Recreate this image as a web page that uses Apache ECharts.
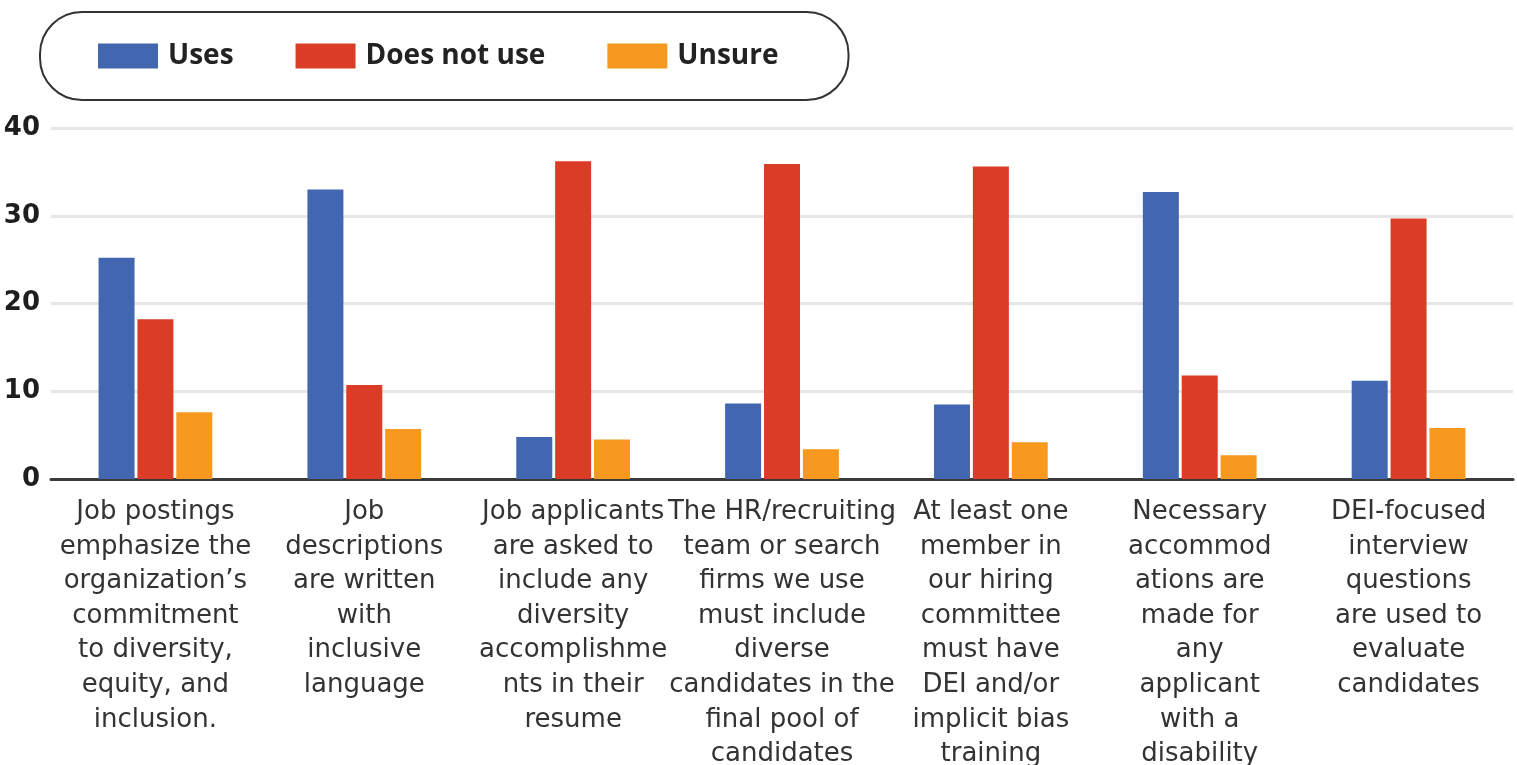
<!DOCTYPE html>
<html>
<head>
<meta charset="utf-8">
<script src="https://cdn.jsdelivr.net/npm/echarts@6/dist/echarts.min.js"></script>
<style>
  html, body { margin: 0; padding: 0; background: #ffffff; }
  #chart { width: 1517px; height: 765px; }
</style>
</head>
<body>
<div id="chart"></div>
<script>
const categories = [
  "Job postings\nemphasize the\norganization’s\ncommitment\nto diversity,\nequity, and\ninclusion.",
  "Job\ndescriptions\nare written\nwith\ninclusive\nlanguage",
  "Job applicants\nare asked to\ninclude any\ndiversity\naccomplishme\nnts in their\nresume",
  "The HR/recruiting\nteam or search\nfirms we use\nmust include\ndiverse\ncandidates in the\nfinal pool of\ncandidates",
  "At least one\nmember in\nour hiring\ncommittee\nmust have\nDEI and/or\nimplicit bias\ntraining",
  "Necessary\naccommod\nations are\nmade for\nany\napplicant\nwith a\ndisability",
  "DEI-focused\ninterview\nquestions\nare used to\nevaluate\ncandidates"
];
const seriesNames = ["Uses", "Does not use", "Unsure"];
const usesValues = [25.2, 33.0, 4.8, 8.6, 8.5, 32.7, 11.2];
const doesNotUseValues = [18.2, 10.7, 36.2, 35.9, 35.6, 11.8, 29.7];
const unsureValues = [7.6, 5.7, 4.5, 3.4, 4.2, 2.7, 5.8];
const yTicks = [0, 10, 20, 30, 40];

const colors = ["#4267B0", "#DB3C26", "#F8991F"];

const chart = echarts.init(document.getElementById('chart'));
const textFont = "DejaVu Sans";

chart.setOption({
  animation: false,
  backgroundColor: '#ffffff',
  color: colors,
  legend: {
    data: seriesNames,
    left: 40,
    top: 12,
    padding: [30, 70, 30, 58],
    itemWidth: 60,
    itemHeight: 25,
    itemGap: 62,
    borderColor: '#333333',
    borderWidth: 2,
    borderRadius: 42,
    icon: 'rect',
    textStyle: {
      fontFamily: 'Open Sans',
      fontWeight: 'bold',
      fontSize: 28,
      lineHeight: 25,
      color: '#222222',
      padding: [0, 0, 0, 5]
    }
  },
  grid: {
    left: 51,
    right: 4,
    top: 128,
    bottom: 286,
    containLabel: false,
    outerBoundsMode: 'none'
  },
  xAxis: {
    type: 'category',
    data: categories,
    axisLine: { show: true, lineStyle: { color: '#3a3a3a', width: 3 } },
    axisTick: { show: false },
    axisLabel: {
      interval: 0,
      margin: 16,
      fontFamily: textFont,
      fontSize: 26,
      lineHeight: 34.6,
      color: '#333333',
      align: 'center'
    },
    splitLine: { show: false }
  },
  yAxis: {
    type: 'value',
    min: yTicks[0],
    max: yTicks[yTicks.length - 1],
    interval: 10,
    axisLine: { show: false },
    axisTick: { show: false },
    axisLabel: {
      margin: 11,
      fontFamily: textFont,
      fontWeight: 'bold',
      fontSize: 26,
      color: '#1e1e1e'
    },
    splitLine: { show: true, lineStyle: { color: '#e6e6e6', width: 3 } }
  },
  series: [
    { name: seriesNames[0], type: 'bar', data: usesValues, barWidth: 36, barGap: '8%' },
    { name: seriesNames[1], type: 'bar', data: doesNotUseValues, barWidth: 36, barGap: '8%' },
    { name: seriesNames[2], type: 'bar', data: unsureValues, barWidth: 36, barGap: '8%' }
  ]
});
</script>
</body>
</html>
